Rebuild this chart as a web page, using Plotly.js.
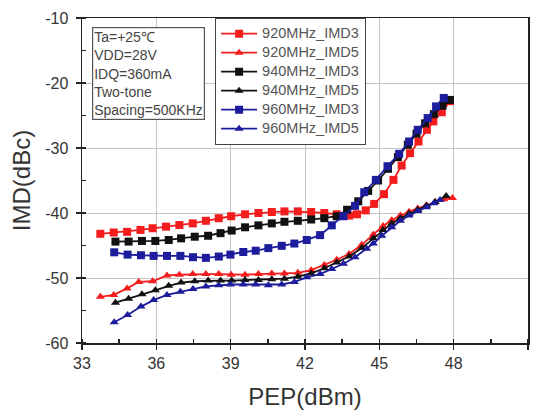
<!DOCTYPE html>
<html>
<head>
<meta charset="utf-8">
<script src="https://cdn.plot.ly/plotly-3.0.1.min.js"></script>
<style>html,body{margin:0;padding:0;background:#fff;}#chart{width:534px;height:410px;}</style>
</head>
<body>
<div id="chart"></div>
<script>
const seriesNames = ["920MHz_IMD3","920MHz_IMD5","940MHz_IMD3","940MHz_IMD5","960MHz_IMD3","960MHz_IMD5"];

const x920_IMD3 = [33.74,34.28,34.82,35.36,35.85,36.39,36.93,37.47,38.0,38.52,39.02,39.58,40.12,40.66,41.17,41.71,42.25,42.78,43.28,43.78,44.1,44.45,44.79,45.19,45.57,45.9,46.24,46.58,46.92,47.18,47.52,47.85];
const y920_IMD3 = [-43.2,-43.0,-42.9,-42.6,-42.35,-42.1,-41.85,-41.6,-41.2,-40.8,-40.5,-40.2,-40.0,-39.85,-39.75,-39.75,-39.85,-40.0,-40.2,-40.4,-40.2,-39.6,-38.6,-37.1,-34.9,-32.7,-30.8,-29.0,-27.2,-25.9,-24.5,-22.8];

const x920_IMD5 = [33.74,34.28,34.82,35.29,35.85,36.43,36.93,37.47,38.0,38.52,39.02,39.58,40.12,40.66,41.17,41.71,42.25,42.78,43.28,43.78,44.29,44.76,45.15,45.5,45.85,46.2,46.55,46.9,47.25,47.6,47.95];
const y920_IMD5 = [-52.9,-52.6,-51.6,-50.6,-50.5,-49.6,-49.5,-49.4,-49.4,-49.4,-49.5,-49.5,-49.4,-49.3,-49.3,-49.2,-48.8,-48.0,-47.2,-46.3,-44.9,-43.3,-42.0,-41.1,-40.4,-39.8,-39.3,-38.8,-38.3,-37.9,-37.7];

const x940_IMD3 = [34.35,34.88,35.42,35.96,36.5,37.0,37.55,38.09,38.59,39.04,39.58,40.12,40.66,41.17,41.71,42.25,42.78,43.28,43.7,44.15,44.55,44.95,45.35,45.75,46.15,46.5,46.85,47.2,47.55,47.85];
const y940_IMD3 = [-44.4,-44.4,-44.3,-44.3,-44.15,-43.9,-43.65,-43.5,-43.1,-42.7,-42.2,-41.9,-41.6,-41.35,-41.2,-41.0,-40.8,-40.5,-39.5,-38.2,-36.6,-35.0,-33.2,-31.4,-29.5,-27.8,-26.2,-24.8,-23.5,-22.6];

const x940_IMD5 = [34.35,34.88,35.42,35.96,36.5,37.0,37.55,38.09,38.59,39.04,39.58,40.12,40.66,41.17,41.71,42.25,42.78,43.28,43.78,44.29,44.76,45.15,45.5,45.85,46.2,46.55,46.9,47.25,47.7];
const y940_IMD5 = [-53.8,-53.2,-52.5,-51.9,-51.2,-50.7,-50.5,-50.4,-50.4,-50.4,-50.3,-50.3,-50.2,-50.1,-49.8,-49.3,-48.5,-47.6,-46.7,-45.4,-43.9,-42.6,-41.6,-40.8,-40.1,-39.5,-38.9,-38.3,-37.4];

const x960_IMD3 = [34.3,34.84,35.38,35.89,36.43,36.97,37.48,38.0,38.52,38.99,39.51,40.01,40.52,41.06,41.57,42.07,42.61,43.08,43.55,44.02,44.39,44.86,45.33,45.8,46.2,46.55,46.95,47.29,47.6];
const y960_IMD3 = [-46.05,-46.4,-46.5,-46.6,-46.6,-46.6,-46.8,-46.9,-46.7,-46.4,-46.0,-45.8,-45.4,-45.05,-44.7,-44.15,-43.4,-41.9,-40.5,-38.9,-36.8,-34.9,-32.8,-30.9,-29.0,-27.2,-25.4,-23.6,-22.3];

const x960_IMD5 = [34.3,34.84,35.38,35.89,36.43,36.97,37.48,38.0,38.52,38.99,39.51,40.01,40.52,41.06,41.57,42.07,42.61,43.08,43.55,44.02,44.49,44.76,45.1,45.5,45.85,46.2,46.55,46.9,47.2,47.45];
const y960_IMD5 = [-56.8,-55.7,-54.4,-53.4,-52.6,-52.1,-51.7,-51.3,-51.1,-51.0,-51.0,-51.0,-51.1,-51.0,-50.6,-49.9,-49.4,-48.6,-47.8,-46.8,-45.5,-44.7,-43.5,-42.2,-41.2,-40.4,-39.7,-39.1,-38.5,-38.0];

const annotationLines = ["Ta=+25℃","VDD=28V","IDQ=360mA","Two-tone","Spacing=500KHz"];
const xTickVals = [33,36,39,42,45,48,51];
const yTickVals = [-60,-50,-40,-30,-20,-10];

const FONT = "Liberation Sans, Arial, sans-serif";
const RED = "#f41c1c", BLACK = "#111111", BLUE = "#1c1c9c";
const xs = [x920_IMD3,x920_IMD5,x940_IMD3,x940_IMD5,x960_IMD3,x960_IMD5];
const ys = [y920_IMD3,y920_IMD5,y940_IMD3,y940_IMD5,y960_IMD3,y960_IMD5];
const colors = [RED,RED,BLACK,BLACK,BLUE,BLUE];
const symbols = ["square","triangle-up","square","triangle-up","square","triangle-up"];

const traces = seriesNames.map((n,i)=>({
  type:"scatter", mode:"lines+markers",
  name:'<span style="font-size:14.5px">'+n+'</span>',
  x:xs[i], y:ys[i],
  line:{color:colors[i], width:1.8},
  marker:{color:colors[i], symbol:symbols[i], size:8}
}));

const axisFont = {family:FONT, size:16, color:"#333"};
const layout = {
  width:534, height:410,
  margin:{l:82, r:6, t:18, b:67},
  paper_bgcolor:"#fff", plot_bgcolor:"#fff",
  showlegend:true,
  legend:{x:0.298, y:1, xanchor:"left", yanchor:"top",
    bgcolor:"#fff", bordercolor:"#444", borderwidth:1.2,
    font:{family:FONT, size:11, color:"#555"},
    tracegroupgap:0, itemwidth:36},
  xaxis:{range:[33,51], tickvals:xTickVals, ticktext:xTickVals.map(String),
    showgrid:true, gridcolor:"#c4c4c4", gridwidth:1,
    showline:true, linecolor:"#222", linewidth:1.5, mirror:true,
    ticks:"outside", ticklen:5, tickcolor:"#222", tickwidth:1.5,
    minor:{dtick:1.5, tick0:33, ticks:"inside", ticklen:4, tickcolor:"#222", showgrid:false},
    zeroline:false, tickfont:axisFont, automargin:false,
    title:{text:"PEP(dBm)", font:{family:FONT, size:24, color:"#333"}, standoff:18}},
  yaxis:{range:[-60,-10], tickvals:yTickVals, ticktext:yTickVals.map(String),
    showgrid:true, gridcolor:"#c4c4c4", gridwidth:1,
    showline:true, linecolor:"#222", linewidth:1.5, mirror:true,
    ticks:"outside", ticklen:5, tickcolor:"#222", tickwidth:1.5,
    minor:{dtick:5, tick0:-60, ticks:"inside", ticklen:4, tickcolor:"#222", showgrid:false},
    zeroline:false, tickfont:axisFont, automargin:false, ticklabelstandoff:4,
    title:{text:"IMD(dBc)", font:{family:FONT, size:24, color:"#333"}, standoff:8}},
  annotations:[{
    xref:"paper", yref:"paper", x:0.022, y:0.972, xanchor:"left", yanchor:"top",
    text:annotationLines.join("<br>"), align:"left", showarrow:false,
    font:{family:FONT, size:14, color:"#444"},
    bordercolor:"#555", borderwidth:1.2, borderpad:1, bgcolor:"#fff"
  }]
};
Plotly.newPlot("chart", traces, layout, {displayModeBar:false, staticPlot:true});
</script>
</body>
</html>
